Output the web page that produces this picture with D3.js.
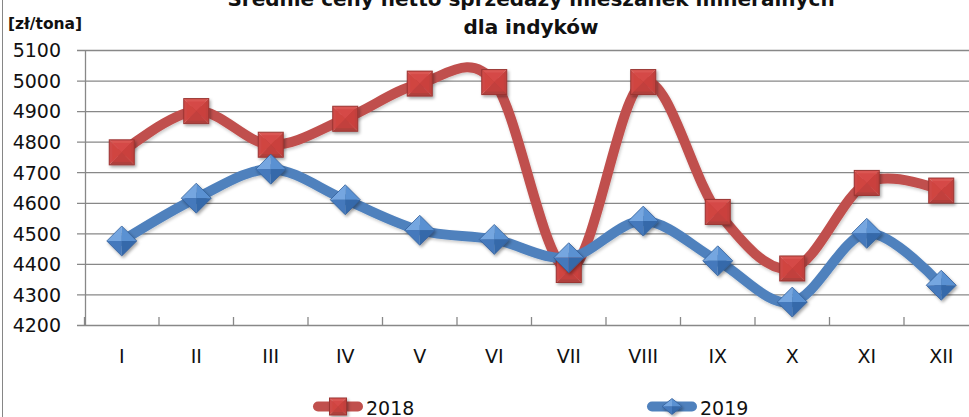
<!DOCTYPE html>
<html><head><meta charset="utf-8">
<script src="https://cdn.jsdelivr.net/npm/d3@7"></script>
<style>
html,body{margin:0;padding:0;background:#fff;}
svg{display:block;}
</style></head>
<body>
<script>
const titleLines = ["Średnie ceny netto sprzedaży mieszanek mineralnych", "dla indyków"];
const unitLabel = "[zł/tona]";
const categories = ["I","II","III","IV","V","VI","VII","VIII","IX","X","XI","XII"];
const series2018 = [4765,4900,4790,4875,4990,4995,4380,4995,4570,4385,4665,4640];
const series2019 = [4475,4615,4710,4610,4510,4480,4420,4540,4410,4275,4500,4330];
const yTicks = [4200,4300,4400,4500,4600,4700,4800,4900,5000,5100];
const seriesNames = ["2018","2019"];

const W = 969, H = 417;
const svg = d3.select("body").append("svg").attr("width", W).attr("height", H);

const defs = svg.append("defs");
const f = defs.append("filter").attr("id","sh").attr("x","-50%").attr("y","-50%").attr("width","200%").attr("height","200%");
f.append("feDropShadow").attr("dx",1.5).attr("dy",2).attr("stdDeviation",1.5).attr("flood-color","#000").attr("flood-opacity",0.35);
const fl = defs.append("filter").attr("id","shl").attr("x","-10%").attr("y","-10%").attr("width","120%").attr("height","120%");
fl.append("feDropShadow").attr("dx",1).attr("dy",2).attr("stdDeviation",1.5).attr("flood-color","#000").attr("flood-opacity",0.2);

const FONT = "DejaVu Sans, Verdana, sans-serif";

const x = d3.scaleBand().domain(categories).range([84.5, 978.5]).padding(0);
const cx = c => x(c) + x.bandwidth()/2;
const y = d3.scaleLinear().domain([4200, 5100]).range([325, 50]);

// chart border (left edge visible)
svg.append("line").attr("x1",2.5).attr("x2",2.5).attr("y1",0).attr("y2",H)
  .attr("stroke","#868686").attr("stroke-width",1);

// Y axis with gridlines
const yAxis = d3.axisLeft(y).tickValues(yTicks).tickFormat(d3.format("d"))
  .tickSizeInner(-(W - 77)).tickSizeOuter(0).tickPadding(16);
const gy = svg.append("g").attr("transform","translate(77,0)").call(yAxis);
gy.select(".domain").remove();
gy.selectAll(".tick line").attr("stroke","#888").attr("stroke-width",1.3);
gy.selectAll(".tick text").attr("font-family",FONT).attr("font-size",19).attr("fill","#111")
  .attr("dy","0.36em");

// vertical axis line
svg.append("line").attr("x1",85.5).attr("x2",85.5).attr("y1",y(5100)).attr("y2",y(4200))
  .attr("stroke","#888").attr("stroke-width",1.3);

// X axis labels
const xAxis = d3.axisBottom(x).tickSize(0).tickPadding(24.5);
const gx = svg.append("g").attr("transform",`translate(0,${y(4200)})`).call(xAxis);
gx.select(".domain").remove();
gx.selectAll(".tick text").attr("font-family",FONT).attr("font-size",19).attr("fill","#111");

// category boundary ticks (pointing up)
const bounds = d3.range(categories.length + 1).map(i => x.range()[0] + i * x.step());
svg.append("g").selectAll("line").data(bounds).join("line")
  .attr("x1", d => d).attr("x2", d => d).attr("y1", y(4200) - 8).attr("y2", y(4200))
  .attr("stroke","#888").attr("stroke-width",1.3);

// Title
const tg = svg.append("g").attr("font-family",FONT).attr("font-weight","bold").attr("fill","#111")
  .attr("text-anchor","middle").attr("font-size",20);
tg.append("text").attr("x",531).attr("y",6).text(titleLines[0]);
tg.append("text").attr("x",531).attr("y",34).text(titleLines[1]);

// unit label
svg.append("text").attr("x",8).attr("y",28.5).attr("font-family",FONT).attr("font-weight","bold")
  .attr("font-size",15.5).attr("fill","#111").text(unitLabel);

// lines
const line = d3.line().x((d,i) => cx(categories[i])).y(d => y(d)).curve(d3.curveCatmullRom.alpha(0));
const RED = "#C0504D", BLUE = "#4F81BD";
svg.append("path").datum(series2018).attr("d", line).attr("fill","none").attr("stroke",RED)
  .attr("stroke-width",10).attr("stroke-linejoin","round").attr("stroke-linecap","round").attr("filter","url(#shl)");
svg.append("path").datum(series2019).attr("d", line).attr("fill","none").attr("stroke",BLUE)
  .attr("stroke-width",10).attr("stroke-linejoin","round").attr("stroke-linecap","round").attr("filter","url(#shl)");

function square(g, s) {
  const h = s/2;
  const faces = [
    {p:[[-h,-h],[h,-h],[0,0]], c:"#DA5652"},
    {p:[[h,-h],[h,h],[0,0]], c:"#C2413D"},
    {p:[[h,h],[-h,h],[0,0]], c:"#B0403C"},
    {p:[[-h,h],[-h,-h],[0,0]], c:"#CF4A46"}
  ];
  faces.forEach(fc => g.append("path").attr("d","M"+fc.p.map(q=>q.join(",")).join("L")+"Z").attr("fill",fc.c));
  g.append("rect").attr("x",-h+3).attr("y",-h+3).attr("width",s-6).attr("height",s-6).attr("fill","#D2403E").attr("opacity",0.55);
  g.append("rect").attr("x",-h).attr("y",-h).attr("width",s).attr("height",s).attr("fill","none")
    .attr("stroke","#9A3532").attr("stroke-width",1);
}
function diamond(g, w, hh) {
  const a = w/2, b = hh/2;
  const faces = [
    {p:[[-a,0],[0,-b],[0,0]], c:"#74A6E0"},
    {p:[[0,-b],[a,0],[0,0]], c:"#5A91D2"},
    {p:[[a,0],[0,b],[0,0]], c:"#3569AA"},
    {p:[[0,b],[-a,0],[0,0]], c:"#4479BC"}
  ];
  faces.forEach(fc => g.append("path").attr("d","M"+fc.p.map(q=>q.join(",")).join("L")+"Z").attr("fill",fc.c));
  g.append("path").attr("d",`M${-a},0L0,${-b}L${a},0L0,${b}Z`).attr("fill","none").attr("stroke","#33609A").attr("stroke-width",0.8);
}

const m18 = svg.append("g").selectAll("g").data(series2018).join("g")
  .attr("transform",(d,i)=>`translate(${cx(categories[i])},${y(d)})`).attr("filter","url(#sh)");
m18.each(function(){ square(d3.select(this), 25); });
const m19 = svg.append("g").selectAll("g").data(series2019).join("g")
  .attr("transform",(d,i)=>`translate(${cx(categories[i])},${y(d)})`).attr("filter","url(#sh)");
m19.each(function(){ diamond(d3.select(this), 30, 30); });

// legend
const legend = [
  {name: seriesNames[0], color: RED, x0: 313, type: "sq"},
  {name: seriesNames[1], color: BLUE, x0: 647, type: "dm"}
];
const ly = 406.5;
legend.forEach(l => {
  const g = svg.append("g");
  g.append("line").attr("x1",l.x0+5).attr("x2",l.x0+45).attr("y1",ly).attr("y2",ly)
    .attr("stroke",l.color).attr("stroke-width",10).attr("stroke-linecap","round");
  const mg = g.append("g").attr("transform",`translate(${l.x0+25},${ly})`).attr("filter","url(#sh)");
  if (l.type === "sq") square(mg, 17); else diamond(mg, 20, 16);
  g.append("text").attr("x",l.x0+53).attr("y",ly+8).attr("font-family",FONT).attr("font-size",19)
    .attr("fill","#111").text(l.name);
});
</script>
</body></html>
